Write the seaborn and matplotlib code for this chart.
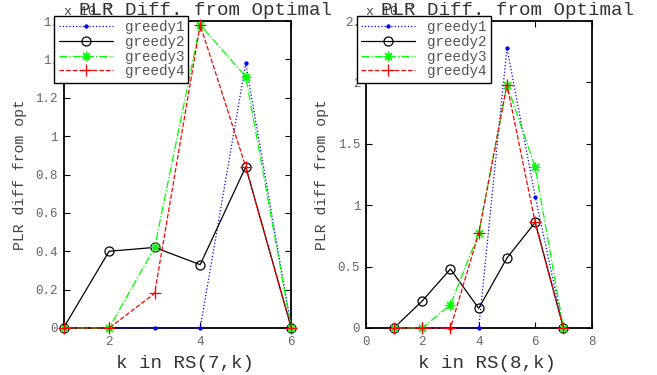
import matplotlib
matplotlib.use("Agg")
import matplotlib.pyplot as plt
import seaborn as sns
import pandas as pd

# ---- data ----
series_names = ["greedy1", "greedy2", "greedy3", "greedy4"]

left_k = [1, 2, 3, 4, 5, 6]
left_greedy1 = [0, 0, 0, 0, 1.38, 0]
left_greedy2 = [0, 0.40, 0.42, 0.33, 0.84, 0]
left_greedy3 = [0, 0, 0.42, 1.58, 1.31, 0]
left_greedy4 = [0, 0, 0.18, 1.58, 0.84, 0]

right_k = [1, 2, 3, 4, 5, 6, 7]
right_greedy1 = [0, 0, 0, 0, 2.28, 1.07, 0]
right_greedy2 = [0, 0.22, 0.48, 0.16, 0.57, 0.86, 0]
right_greedy3 = [0, 0, 0.19, 0.77, 1.98, 1.31, 0]
right_greedy4 = [0, 0, 0, 0.77, 1.98, 0.86, 0]

left_xticks = [2, 4, 6]
left_yticks = [0, 0.2, 0.4, 0.6, 0.8, 1.0, 1.2, 1.4, 1.6]
left_yticklabels = ["0", "0.2", "0.4", "0.6", "0.8", "1", "1.2", "1.", "1."]
right_xticks = [0, 2, 4, 6, 8]
right_yticks = [0, 0.5, 1.0, 1.5, 2.0, 2.5]
right_yticklabels = ["0", "0.5", "1", "1.5", "2", "2."]

title_text = "PLR Diff. from Optimal"
ylabel_text = "PLR diff from opt"
left_xlabel = "k in RS(7,k)"
right_xlabel = "k in RS(8,k)"

# ---- styles ----
mono = "Liberation Mono"
styles = {
    "greedy1": dict(color=(0, 0, 1), linestyle=":", marker="o", markersize=2.2, mfc=(0, 0, 1), mec=(0, 0, 1)),
    "greedy2": dict(color="black", linestyle="-", marker="o", markersize=6.5, mfc="none", mec="black"),
    "greedy3": dict(color=(0, 1, 0), linestyle="-.", marker=(8, 2, 0), markersize=7, mfc="none", mec=(0, 1, 0)),
    "greedy4": dict(color=(1, 0, 0), linestyle="--", marker="+", markersize=8, mfc="none", mec=(1, 0, 0)),
}

sns.set_theme(style="white")
plt.rcParams["font.family"] = [mono, "DejaVu Sans"]

fig = plt.figure(figsize=(6.57, 3.75), dpi=100)
W, H = 657.0, 375.0
ax_l = fig.add_axes([63.5 / W, (H - 328) / H, 227.8 / W, 307 / H])
ax_r = fig.add_axes([365.7 / W, (H - 328) / H, 226 / W, 307 / H])


def draw(ax, k, vals, xlim, ylim, xticks, yticks, yticklabels, xlabel, title_cx):
    for name, v in zip(series_names, vals):
        df = pd.DataFrame({"k": k, "v": v})
        st = styles[name]
        sns.lineplot(data=df, x="k", y="v", ax=ax, label=name, color=st["color"],
                     linestyle=st["linestyle"], marker=st["marker"], markersize=st["markersize"],
                     markerfacecolor=st["mfc"], markeredgecolor=st["mec"], markeredgewidth=0.9,
                     linewidth=0.9, clip_on=False, zorder=3)
    ax.set_xlim(*xlim)
    ax.set_ylim(*ylim)
    ax.set_xticks(xticks)
    ax.set_xticklabels([str(t) for t in xticks])
    ax.set_yticks(yticks)
    ax.set_yticklabels(yticklabels)
    ax.tick_params(axis="both", direction="in", length=4, width=0.8, colors="black",
                   labelcolor="#666666", labelsize=9, top=True, right=True, bottom=True, left=True)
    ax.tick_params(axis="x", pad=6)
    ax.tick_params(axis="y", pad=4)
    for sp in ax.spines.values():
        sp.set_color("black")
        sp.set_linewidth(1.3)
        sp.set_visible(True)
    ax.set_xlabel(xlabel, fontsize=13.8, color="#333333", family=mono)
    ax.xaxis.set_label_coords(0.5 + 8 / 227, -35 / 307)
    ax.xaxis.label.set_va("center")
    ax.set_ylabel(ylabel_text, fontsize=10.6, color="#444444", family=mono, va="center")
    ax.yaxis.set_label_coords(-43.5 / 227, 0.5)
    leg = ax.legend(loc="upper left", bbox_to_anchor=(-9 / 227, 1 + 5 / 307), frameon=True,
                    fancybox=False, framealpha=1, edgecolor="black", fontsize=10.3,
                    handlelength=3.8, handletextpad=0.8, labelspacing=0.05, borderpad=0.3,
                    borderaxespad=0, numpoints=1)
    leg.get_frame().set_linewidth(1.0)
    for t in leg.get_texts():
        t.set_color("#555555")
    # exponent label
    ax.text(0.0, 1 + 3 / 307, "x 10", transform=ax.transAxes, fontsize=9.5,
            color="#444444", ha="left", va="bottom", family=mono)
    ax.text(38 / 227, 1 + 10 / 307, "-3", transform=ax.transAxes, fontsize=6.5,
            color="#444444", ha="left", va="bottom", family=mono)
    fig.text(title_cx / W, 1 - 15 / H, title_text, fontsize=13.8, color="#333333",
             ha="center", va="baseline", family=mono)


draw(ax_l, left_k, [left_greedy1, left_greedy2, left_greedy3, left_greedy4],
     (1, 6), (0, 1.6), left_xticks, left_yticks, left_yticklabels, left_xlabel, 205.5)
draw(ax_r, right_k, [right_greedy1, right_greedy2, right_greedy3, right_greedy4],
     (0, 8), (0, 2.5), right_xticks, right_yticks, right_yticklabels, right_xlabel, 507.5)

fig.savefig("out.png", dpi=100)
